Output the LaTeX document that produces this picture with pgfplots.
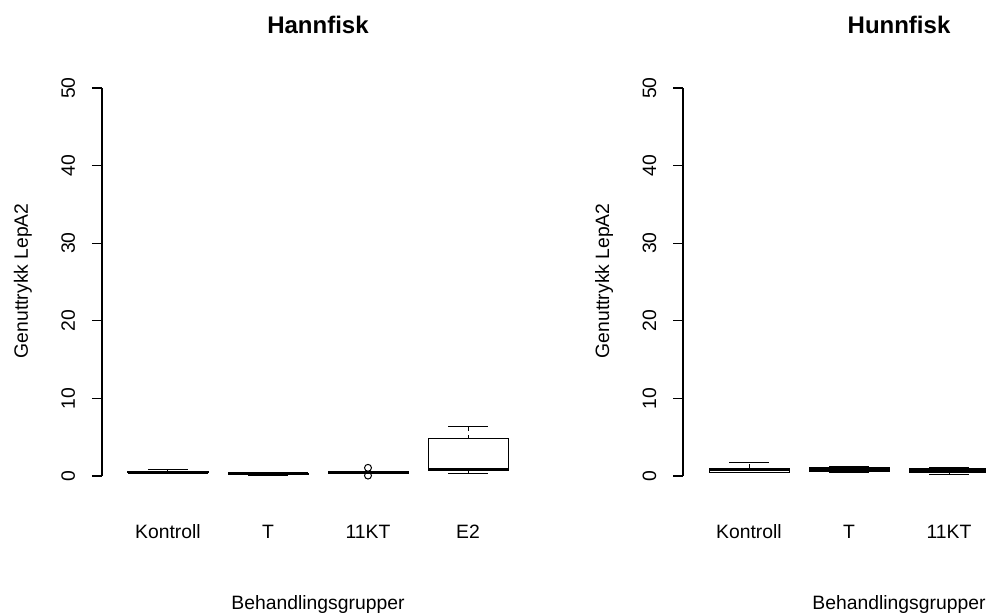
\documentclass[border=0pt]{standalone}
\usepackage{fontspec}
\setmainfont{Liberation Sans}
\usepackage{pgfplots}
\pgfplotsset{compat=1.18}
\usepgfplotslibrary{statistics}

\pgfplotsset{
  rpanel/.style={
    scale only axis, width=324pt, height=314.25pt,
    xmin=0.34, xmax=4.66, ymin=-2, ymax=52,
    axis lines*=left, axis line style={draw=none},
    clip=false,
    xtick={1,2,3,4}, xtick style={draw=none},
    ytick={0,10,20,30,40,50},
    tick align=outside, major tick length=7.5pt,
    ytick style={line width=0.8pt, black},
    /pgf/number format/assume math mode=true,
    tick label style={font=\fontsize{14.5pt}{17pt}\selectfont},
    yticklabel style={rotate=90, anchor=base, inner sep=0pt},
    yticklabel shift=12.75pt,
    xticklabel style={anchor=base, inner sep=0pt},
    xticklabel shift=27.75pt,
    xlabel={Behandlingsgrupper},
    ylabel={Genuttrykk LepA2},
    label style={font=\fontsize{14.5pt}{17pt}\selectfont},
    x label style={at={(axis description cs:0.5,-0.2828)}, anchor=base, inner sep=0pt},
    y label style={at={(axis description cs:-0.1713,0.503)}, anchor=base, rotate=0, inner sep=0pt},
    title style={at={(axis description cs:0.5,1.074)}, anchor=base, inner sep=0pt,
      font=\fontsize{18pt}{21pt}\selectfont\bfseries},
  },
  rbox/.style={
    black, line width=0.75pt, solid, mark=o, mark size=2.6pt,
    mark options={solid, line width=0.75pt},
    boxplot/draw direction=y,
    boxplot/box extend=0.8,
    boxplot/whisker extend=0.4,
    boxplot/every median/.style={line width=2.3pt},
    boxplot/draw/lower whisker/.code={%
      \draw[dash pattern=on 3pt off 3pt]
        (boxplot box cs:\pgfplotsboxplotvalue{lower quartile},0.5) --
        (boxplot box cs:\pgfplotsboxplotvalue{lower whisker},0.5);
      \draw (boxplot whisker cs:\pgfplotsboxplotvalue{lower whisker},0) --
        (boxplot whisker cs:\pgfplotsboxplotvalue{lower whisker},1);
    },
    boxplot/draw/upper whisker/.code={%
      \draw[dash pattern=on 3pt off 3pt]
        (boxplot box cs:\pgfplotsboxplotvalue{upper quartile},0.5) --
        (boxplot box cs:\pgfplotsboxplotvalue{upper whisker},0.5);
      \draw (boxplot whisker cs:\pgfplotsboxplotvalue{upper whisker},0) --
        (boxplot whisker cs:\pgfplotsboxplotvalue{upper whisker},1);
    },
  }
}

\begin{document}
\begin{tikzpicture}
\path[use as bounding box] (0,0) rectangle (739.5pt,460.5pt);
\clip (0,0) rectangle (739.5pt,460.5pt);

% Hannfisk
\begin{axis}[rpanel, at={(76.5pt,91.875pt)}, anchor=south west,
  title={Hannfisk}, xticklabels={Kontroll,T,11KT,E2}]
\draw[line width=0.8pt] (axis cs:0.34,0) -- (axis cs:0.34,50);
\addplot[rbox, boxplot prepared={draw position=1, lower whisker=0.35, lower quartile=0.42,
  median=0.5, upper quartile=0.6, upper whisker=0.8}] coordinates {};
\addplot[rbox, boxplot prepared={draw position=2, lower whisker=0.02, lower quartile=0.18,
  median=0.27, upper quartile=0.35, upper whisker=0.42}] coordinates {};
\addplot[rbox, boxplot prepared={draw position=3, lower whisker=0.3, lower quartile=0.35,
  median=0.45, upper quartile=0.55, upper whisker=0.6}] coordinates {(3,1.05) (3,0.05)};
\addplot[rbox, boxplot prepared={draw position=4, lower whisker=0.28, lower quartile=0.65,
  median=0.8, upper quartile=4.77, upper whisker=6.42}] coordinates {};
\end{axis}

% Hunnfisk
\begin{axis}[rpanel, at={(512.25pt,91.875pt)}, anchor=south west,
  title={Hunnfisk}, xticklabels={Kontroll,T,11KT}]
\draw[line width=0.8pt] (axis cs:0.34,0) -- (axis cs:0.34,50);
\addplot[rbox, boxplot prepared={draw position=1, lower whisker=0.45, lower quartile=0.5,
  median=0.8, upper quartile=1.0, upper whisker=1.72}] coordinates {};
\addplot[rbox, boxplot prepared={draw position=2, lower whisker=0.5, lower quartile=0.6,
  median=0.85, upper quartile=1.05, upper whisker=1.2}] coordinates {};
\addplot[rbox, boxplot prepared={draw position=3, lower whisker=0.25, lower quartile=0.5,
  median=0.75, upper quartile=0.95, upper whisker=1.1}] coordinates {};
\end{axis}
\end{tikzpicture}
\end{document}
